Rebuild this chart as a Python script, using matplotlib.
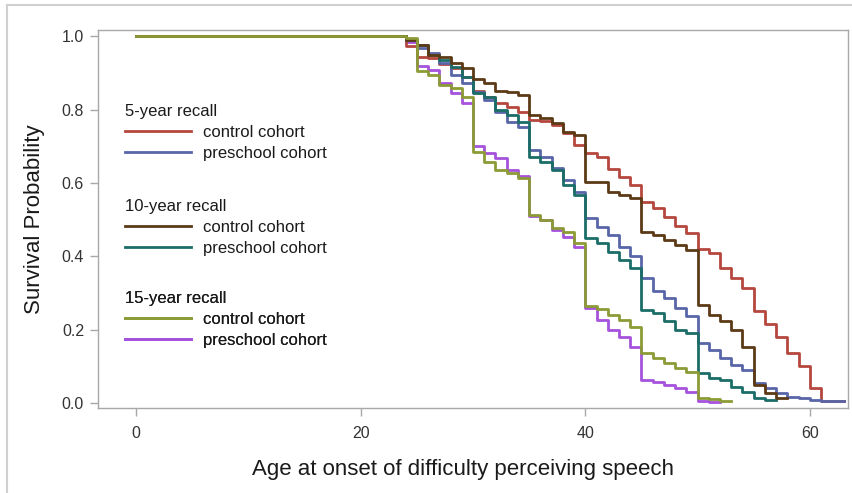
import matplotlib
matplotlib.use("Agg")
import matplotlib.pyplot as plt
from matplotlib.lines import Line2D

plt.rcParams['font.family'] = ['Liberation Sans', 'DejaVu Sans']

# ages at which the survival curves step (0 = start of follow-up)
step_ages = [0, 24, 25, 26, 27, 28, 29, 30, 31, 32, 33, 34, 35, 36, 37, 38, 39,
             40, 41, 42, 43, 44, 45, 46, 47, 48, 49, 50, 51, 52, 53, 54, 55,
             56, 57, 58, 59, 60, 61, 62, 63]

# survival probability, one value per age above
surv_5y_control = [1.0, 0.974, 0.944, 0.940, 0.925, 0.913, 0.889, 0.850, 0.835,
                   0.817, 0.807, 0.794, 0.771, 0.768, 0.757, 0.735, 0.703,
                   0.681, 0.671, 0.638, 0.617, 0.594, 0.549, 0.532, 0.508,
                   0.483, 0.463, 0.420, 0.409, 0.368, 0.340, 0.313, 0.250,
                   0.215, 0.181, 0.136, 0.100, 0.041, 0.006]
surv_5y_preschool = [1.0, 0.989, 0.967, 0.955, 0.926, 0.894, 0.872, 0.847, 0.826,
                     0.794, 0.767, 0.753, 0.689, 0.671, 0.640, 0.608, 0.576,
                     0.504, 0.480, 0.458, 0.426, 0.400, 0.340, 0.305, 0.286,
                     0.259, 0.236, 0.163, 0.144, 0.122, 0.104, 0.090, 0.054,
                     0.041, 0.027, 0.017, 0.013, 0.008, 0.004]
surv_10y_control = [1.0, 0.990, 0.975, 0.948, 0.944, 0.926, 0.913, 0.884, 0.872,
                    0.850, 0.848, 0.840, 0.785, 0.778, 0.763, 0.739, 0.730,
                    0.603, 0.603, 0.576, 0.567, 0.559, 0.467, 0.458, 0.444,
                    0.430, 0.417, 0.267, 0.240, 0.222, 0.199, 0.153, 0.049,
                    0.027, 0.013]
surv_10y_preschool = [1.0, 0.990, 0.975, 0.950, 0.935, 0.915, 0.890, 0.845, 0.835,
                      0.798, 0.785, 0.767, 0.670, 0.658, 0.635, 0.594, 0.567,
                      0.450, 0.436, 0.412, 0.390, 0.368, 0.253, 0.245, 0.222,
                      0.199, 0.190, 0.082, 0.068, 0.063, 0.044, 0.031, 0.013,
                      0.008]
surv_15y_control = [1.0, 0.995, 0.904, 0.894, 0.866, 0.858, 0.835, 0.685, 0.657,
                    0.635, 0.626, 0.613, 0.512, 0.499, 0.477, 0.467, 0.437,
                    0.265, 0.256, 0.240, 0.226, 0.207, 0.136, 0.122, 0.109,
                    0.095, 0.085, 0.013, 0.010, 0.004]
surv_15y_preschool = [1.0, 0.985, 0.920, 0.907, 0.872, 0.845, 0.817, 0.700, 0.682,
                      0.667, 0.635, 0.618, 0.510, 0.499, 0.471, 0.453, 0.426,
                      0.259, 0.226, 0.199, 0.181, 0.153, 0.063, 0.058, 0.048,
                      0.040, 0.031, 0.004, 0.003]
# age where each curve stops
end_age = {"5c": 63, "5p": 63, "10c": 58, "10p": 57, "15c": 53, "15p": 52}

colors = {"5c": "#b5473f", "5p": "#5866a8", "10c": "#5c3a16",
          "10p": "#1b6d68", "15c": "#8c9b36", "15p": "#a552dc"}

series = {"5c": surv_5y_control, "5p": surv_5y_preschool,
          "10c": surv_10y_control, "10p": surv_10y_preschool,
          "15c": surv_15y_control, "15p": surv_15y_preschool}

fig = plt.figure(figsize=(8.53, 4.93), dpi=100)
ax = fig.add_axes([98 / 853, 1 - 408 / 493, 750 / 853, 378 / 493])

# draw order matters for which line sits on top
for key in ["15p", "5c", "5p", "10p", "10c", "15c"]:
    vals = series[key]
    x = step_ages[:len(vals)] + [end_age[key]]
    y = vals + [vals[-1]]
    ax.step(x, y, where="post", color=colors[key], lw=2.0)

ax.set_xlim(-3.4, 63.4)
ax.set_ylim(-0.014, 1.017)
ax.set_xticks([0, 20, 40, 60])
ax.set_yticks([0.0, 0.2, 0.4, 0.6, 0.8, 1.0])
ax.set_yticklabels(["0.0", "0.2", "0.4", "0.6", "0.8", "1.0"])

grey = "#a8a8a8"
for sp in ax.spines.values():
    sp.set_color(grey)
    sp.set_linewidth(1.0)
ax.tick_params(colors=grey, labelcolor="#333333", labelsize=11.5,
               length=6, width=1.0)
ax.tick_params(axis="y", pad=4)
ax.tick_params(axis="x", pad=7)

ax.set_xlabel("Age at onset of difficulty perceiving speech", fontsize=16,
              color="#1a1a1a", labelpad=10)
ax.xaxis.set_label_coords(0.487, -0.135)
ax.set_ylabel("Survival Probability", fontsize=16, color="#1a1a1a",
              labelpad=12)

# three grouped legends, one per recall period
groups = [("5-year recall", "5c", "5p", 0.835),
          ("10-year recall", "10c", "10p", 0.583),
          ("15-year recall", "15c", "15p", 0.340)]
for title, kc, kp, ytop in groups:
    handles = [Line2D([], [], color=colors[kc], lw=2.0),
               Line2D([], [], color=colors[kp], lw=2.0)]
    leg = ax.legend(handles, ["control cohort", "preschool cohort"],
                    title=title, loc="upper left",
                    bbox_to_anchor=(0.0205, ytop), frameon=False,
                    alignment="left", fontsize=12, title_fontsize=12,
                    handlelength=3.95, handletextpad=0.72, labelspacing=0.36,
                    borderpad=0.2)
    leg.get_title().set_color("#1a1a1a")
    for t in leg.get_texts():
        t.set_color("#1a1a1a")
    ax.add_artist(leg)

# light outer frame of the original figure
fig.add_artist(Line2D([7 / 853, 7 / 853], [0, 1 - 5 / 493],
                      transform=fig.transFigure, color="#d0d0d0", lw=1.5))
fig.add_artist(Line2D([7 / 853, 1], [1 - 5 / 493, 1 - 5 / 493],
                      transform=fig.transFigure, color="#d0d0d0", lw=1.5))

fig.savefig("out.png", dpi=100)
